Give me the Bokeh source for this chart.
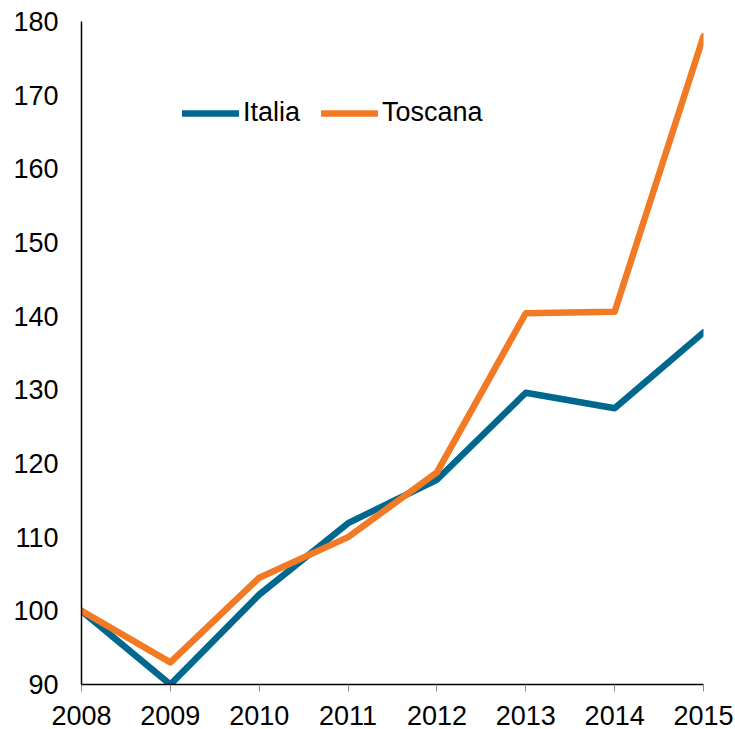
from bokeh.plotting import figure
from bokeh.models import Range1d, Legend, LegendItem, FixedTicker
from bokeh.embed import file_html
from bokeh.resources import INLINE

years = [2008, 2009, 2010, 2011, 2012, 2013, 2014, 2015]
italia = [100.0, 90.0, 102.2, 111.9, 117.8, 129.6, 127.5, 137.8]
toscana = [100.0, 93.0, 104.5, 110.0, 118.8, 140.4, 140.6, 178.0]
y_ticks = [90, 100, 110, 120, 130, 140, 150, 160, 170, 180]

BLUE = "#00688F"
ORANGE = "#F27A24"
FONT = "Liberation Sans"

p = figure(width=735, height=729, output_backend="svg", toolbar_location=None,
           x_range=Range1d(2008, 2015), y_range=Range1d(90, 180),
           min_border_left=81, min_border_right=32, min_border_top=21, min_border_bottom=45)
p.outline_line_color = None
p.xgrid.visible = False
p.ygrid.visible = False

r1 = p.line(years, italia, line_color=BLUE, line_width=6.5, line_cap="round", line_join="round")
r2 = p.line(years, toscana, line_color=ORANGE, line_width=6.5, line_cap="round", line_join="round")

for ax in (p.xaxis[0], p.yaxis[0]):
    ax.axis_line_color = "black"
    ax.axis_line_width = 1.5
    ax.minor_tick_line_color = None
    ax.major_label_text_font = FONT
    ax.major_label_text_font_size = "27px"
    ax.major_label_text_color = "black"

p.xaxis.ticker = FixedTicker(ticks=years)
p.xaxis.major_tick_line_color = "#888888"
p.xaxis.major_tick_in = 0
p.xaxis.major_tick_out = 7
p.xaxis.major_label_standoff = 14

p.yaxis.ticker = FixedTicker(ticks=y_ticks)
p.yaxis.major_tick_line_color = None
p.yaxis.major_tick_in = 0
p.yaxis.major_tick_out = 0
p.yaxis.major_label_standoff = 23

legend = Legend(items=[LegendItem(label="Italia", renderers=[r1]),
                       LegendItem(label="Toscana", renderers=[r2])],
                orientation="horizontal", location=(101, 556),
                padding=0, margin=0, spacing=21, label_standoff=4,
                glyph_width=57, glyph_height=24, label_height=24,
                label_text_font=FONT, label_text_font_size="27px",
                label_text_color="black",
                border_line_color=None, background_fill_alpha=0)
p.add_layout(legend, "center")

open("out.html", "w").write(file_html(p, INLINE))
